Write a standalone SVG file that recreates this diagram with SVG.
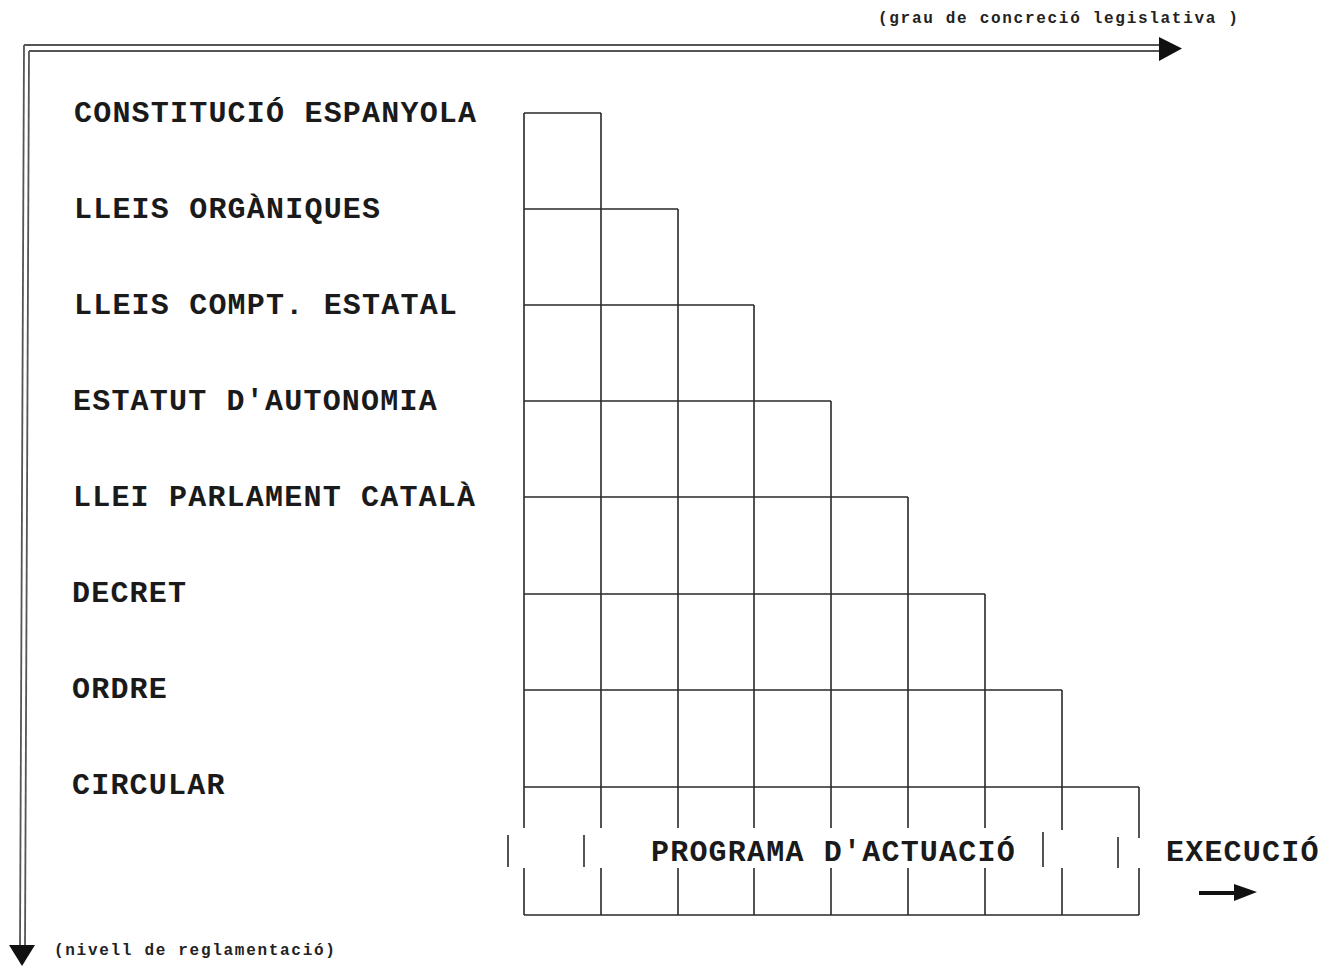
<svg xmlns="http://www.w3.org/2000/svg" width="1335" height="968" viewBox="0 0 1335 968">
<style>
.lbl{font-family:"Liberation Mono","Courier New",monospace;font-size:30px;font-weight:bold;letter-spacing:1.2px;fill:#1a1a1a}
.sm{font-family:"Liberation Mono","Courier New",monospace;font-size:16px;font-weight:bold;letter-spacing:1.7px;fill:#222}
.g{stroke:#2a2a2a;stroke-width:1.6;fill:none}
.ax{stroke:#555;stroke-width:1.8;fill:none}
</style>
<rect width="1335" height="968" fill="#fff"/>
<g id="axes">
<line class="ax" x1="24" y1="45" x2="1166" y2="45"/>
<line class="ax" x1="29" y1="51" x2="1166" y2="51"/>
<polygon points="1159,37 1182,48.5 1159,61" fill="#111"/>
<line class="ax" x1="24" y1="45" x2="20" y2="948"/>
<line class="ax" x1="29" y1="51" x2="25" y2="948"/>
<polygon points="9,945 35,945 22,966" fill="#111"/>
<text class="sm" x="878" y="23">(grau de concreció legislativa )</text>
<text class="sm" x="54" y="955">(nivell de reglamentació)</text>
</g>
<g id="labels">
<text class="lbl" x="74" y="122">CONSTITUCIÓ ESPANYOLA</text>
<text class="lbl" x="74" y="218">LLEIS ORGÀNIQUES</text>
<text class="lbl" x="74" y="314">LLEIS COMPT. ESTATAL</text>
<text class="lbl" x="73" y="410">ESTATUT D'AUTONOMIA</text>
<text class="lbl" x="73" y="506">LLEI PARLAMENT CATALÀ</text>
<text class="lbl" x="72" y="602">DECRET</text>
<text class="lbl" x="72" y="698">ORDRE</text>
<text class="lbl" x="72" y="794">CIRCULAR</text>
</g>
<g id="grid">
<path class="g" d="M524,113H601 M524,209H678 M524,305H754 M524,401H831 M524,497H908 M524,594H985 M524,690H1062 M524,787H1139 M524,915H1139"/>
<path class="g" d="M524,113V828 M524,868V915 M601,113V828 M601,868V915 M678,209V828 M678,868V915 M754,305V828 M754,868V915 M831,401V828 M831,868V915 M908,497V828 M908,868V915 M985,594V828 M985,868V915 M1062,690V830 M1062,868V915 M1139,787V838 M1139,868V915"/>
<path class="g" d="M508,835V867 M584,835V867 M1043,832V867 M1118,837V868"/>
</g>
<g id="programa">
<text class="lbl" x="651" y="861" letter-spacing="0.9">PROGRAMA D'ACTUACIÓ</text>
</g>
<g id="execucio">
<text class="lbl" x="1166" y="861" letter-spacing="1">EXECUCIÓ</text>
<line x1="1199" y1="893" x2="1238" y2="893" stroke="#111" stroke-width="4"/>
<polygon points="1234,884 1257,892 1234,901" fill="#111"/>
</g>
</svg>
